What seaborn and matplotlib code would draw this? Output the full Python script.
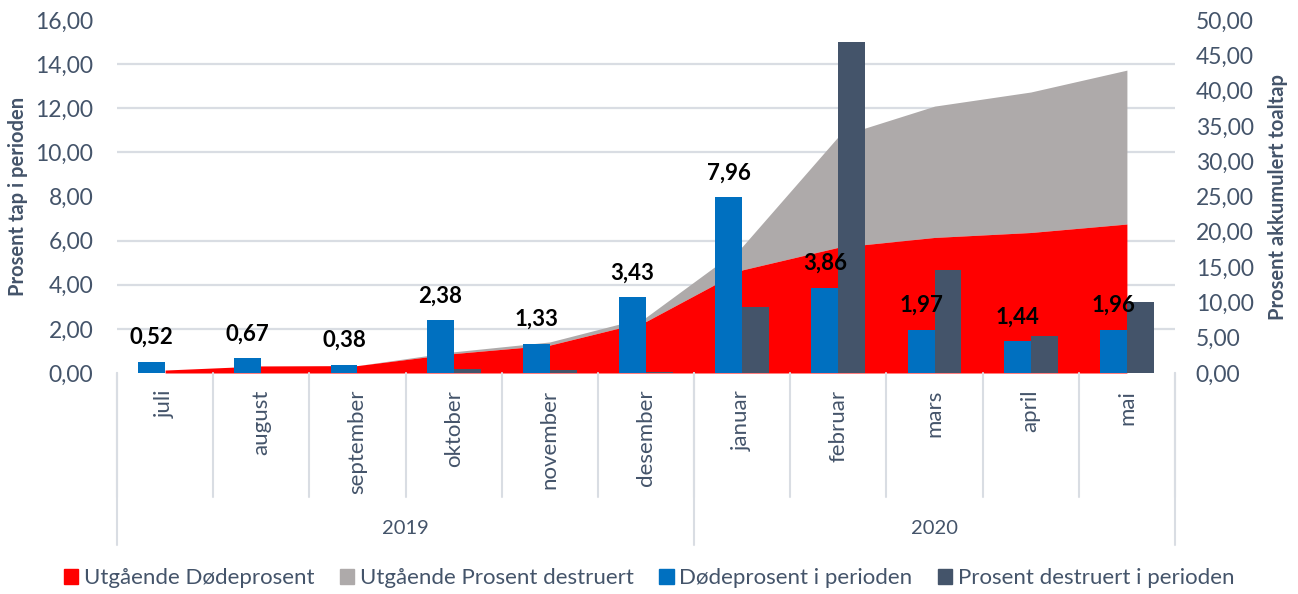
import numpy as np
import pandas as pd
import matplotlib
matplotlib.use("Agg")
import matplotlib.pyplot as plt
import matplotlib.transforms as mtransforms
from matplotlib.patches import Patch
from matplotlib.ticker import MultipleLocator, FuncFormatter
import seaborn as sns

# data
months = ["juli", "august", "september", "oktober", "november", "desember",
          "januar", "februar", "mars", "april", "mai"]
years = ["2019", "2020"]
year_sizes = [6, 5]
dode_periode = [0.52, 0.67, 0.38, 2.38, 1.33, 3.43, 7.96, 3.86, 1.97, 1.44, 1.96]
destruert_periode = [0.0, 0.0, 0.0, 0.18, 0.14, 0.05, 2.98, 14.99, 4.65, 1.69, 3.22]
utg_dode = [0.42, 1.0, 1.05, 2.75, 3.95, 7.3, 14.6, 17.8, 19.2, 19.9, 21.1]
utg_destruert = [0.0, 0.0, 0.0, 0.25, 0.45, 0.6, 3.3, 15.7, 18.6, 19.9, 21.8]

c_red = "#FF0000"
c_grey = "#AEAAAA"
c_blue = "#0070C0"
c_dark = "#44546A"
c_text = "#44546A"
c_grid = "#D9DDE3"

sns.set_theme(style="white")
plt.rcParams["font.family"] = ["Lato", "DejaVu Sans"]

bars = pd.DataFrame({
    "month": months * 2,
    "value": dode_periode + destruert_periode,
    "series": ["Dødeprosent i perioden"] * len(months) + ["Prosent destruert i perioden"] * len(months),
})

fig = plt.figure(figsize=(12.98, 5.94), dpi=100)
ax = fig.add_axes([117 / 1298, 1 - 373 / 594, (1175 - 117) / 1298, (373 - 20) / 594])
ax2 = ax.twinx()

# areas on the secondary axis, behind the bars
x = np.arange(len(months))
red_top = np.array(utg_dode)
grey_top = red_top + np.array(utg_destruert)
ax2.fill_between(x, red_top, grey_top, color=c_grey, lw=0, zorder=2)
ax2.fill_between(x, 0, red_top, color=c_red, lw=0, zorder=3)
ax2.set_ylim(0, 50)
ax2.yaxis.set_major_locator(MultipleLocator(5))
ax2.yaxis.set_minor_locator(MultipleLocator(50 / 8))
ax2.grid(False)
ax2.grid(which="minor", axis="y", color=c_grid, lw=1.6, zorder=0)
ax2.set_axisbelow(True)

sns.barplot(data=bars, x="month", y="value", hue="series", order=months,
            palette=[c_blue, c_dark], width=0.56, saturation=1, linewidth=0,
            ax=ax, legend=False)
ax.set_zorder(ax2.get_zorder() + 1)
ax.patch.set_visible(False)
ax.set_xlim(-0.5, len(months) - 0.5)
ax.set_ylim(0, 16)
ax.yaxis.set_major_locator(MultipleLocator(2))

fmt = FuncFormatter(lambda v, p: f"{v:.2f}".replace(".", ","))
ax.yaxis.set_major_formatter(fmt)
ax2.yaxis.set_major_formatter(fmt)

for a in (ax, ax2):
    for s in a.spines.values():
        s.set_visible(False)
    a.tick_params(axis="y", length=0, labelsize=16.5, labelcolor=c_text, which="both")
ax.tick_params(axis="y", pad=17)
ax2.tick_params(axis="y", pad=15)

ax.set_xlabel("")
ax.set_ylabel("Prosent tap i perioden", fontsize=14.5, fontweight="bold", color=c_text, labelpad=5)
ax2.set_ylabel("Prosent akkumulert toaltap", fontsize=14.5, fontweight="bold", color=c_text, labelpad=10)

ax.set_xticks(x)
ax.set_xticklabels(months, rotation=90, fontsize=16, color=c_text, va="top", ha="center")
ax.tick_params(axis="x", length=0, pad=12)

# data labels on the blue bars
for i, v in enumerate(dode_periode):
    ax.annotate(f"{v:.2f}".replace(".", ","), (i - 0.14, v), xytext=(0, 10),
                textcoords="offset points", ha="center", va="bottom",
                fontsize=16, fontweight="bold", color="black")

# category separators and year groups
trans = mtransforms.blended_transform_factory(ax.transData, ax.transAxes)
month_bottom = -(497 - 373) / 353
group_bottom = -(545 - 373) / 353
for b in np.arange(-0.5, len(months), 1.0):
    ax.plot([b, b], [0, month_bottom], transform=trans, color=c_grid, lw=1.5, clip_on=False)
start = -0.5
for yr, n in zip(years, year_sizes):
    ax.plot([start, start], [0, group_bottom], transform=trans, color=c_grid, lw=1.5, clip_on=False)
    ax.text(start + n / 2, -(528 - 373) / 353, yr, transform=trans, ha="center", va="center",
            fontsize=14.5, color=c_text)
    start += n
ax.plot([start, start], [0, group_bottom], transform=trans, color=c_grid, lw=1.5, clip_on=False)

handles = [Patch(color=c_red, label="Utgående Dødeprosent"),
           Patch(color=c_grey, label="Utgående Prosent destruert"),
           Patch(color=c_blue, label="Dødeprosent i perioden"),
           Patch(color=c_dark, label="Prosent destruert i perioden")]
leg = fig.legend(handles=handles, loc="center", bbox_to_anchor=(0.5, 1 - 578 / 594), ncol=4,
                 frameon=False, fontsize=16, handlelength=0.65, handleheight=0.65,
                 handletextpad=0.25, columnspacing=1.15)
for t in leg.get_texts():
    t.set_color(c_text)

fig.savefig("out.png", dpi=100)
